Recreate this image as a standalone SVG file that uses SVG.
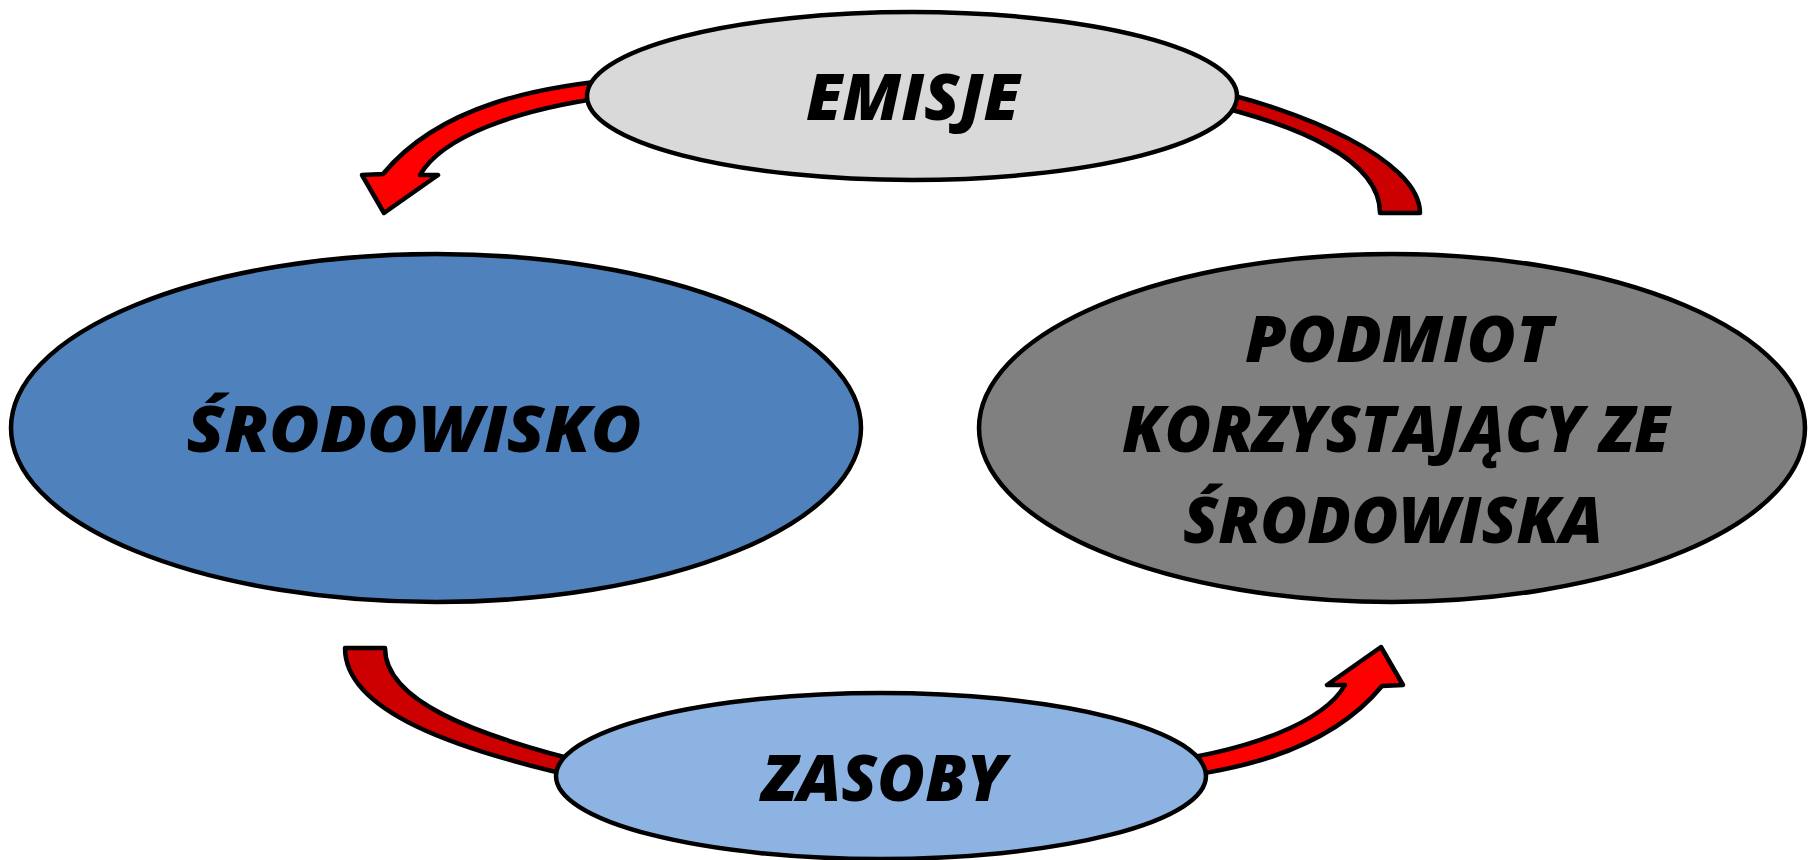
<svg xmlns="http://www.w3.org/2000/svg" width="1809" height="860" viewBox="0 0 1809 860">
<style>
.node{stroke:#000;stroke-width:4.5}
.arr{stroke:#000;stroke-width:4.5;stroke-linejoin:round}
.bright{fill:#FF0000}
.dark{fill:#CC0000}
text{font-family:"Open Sans","Liberation Sans",sans-serif;font-weight:800;font-style:italic;font-size:63px;fill:#000;text-anchor:middle}
</style>
<rect width="1809" height="860" fill="#fff"/>
<g id="connectors">
<path id="arrow-emisje-srodowisko" class="arr bright" d="M 625,79 C 540,86 440,105 383,174 L 362,175 L 384,213 L 438,175 L 420,175 C 440,140 510,108 625,95 Z"/>
<path id="arrow-podmiot-emisje" class="arr dark" d="M 1200,88 C 1300,108 1420,160 1420,213 L 1380,213 C 1380,160 1300,125 1200,102 Z"/>
<path id="arrow-srodowisko-zasoby" class="arr dark" d="M 345,648 L 385,648 C 385,700 470,735 600,766 L 600,782 C 450,750 345,710 345,648 Z"/>
<path id="arrow-zasoby-podmiot" class="arr bright" transform="rotate(180 882.5 430)" d="M 625,79 C 540,86 440,105 383,174 L 362,175 L 384,213 L 438,175 L 420,175 C 440,140 510,108 625,95 Z"/>
</g>
<g id="emisje">
<ellipse class="node" cx="912" cy="96" rx="325" ry="84" fill="#D9D9D9"/>
<text x="913" y="120" textLength="214" lengthAdjust="spacingAndGlyphs">EMISJE</text>
</g>
<g id="srodowisko">
<ellipse class="node" cx="436" cy="428" rx="425" ry="174" fill="#4F81BD"/>
<text x="414" y="452" textLength="455" lengthAdjust="spacingAndGlyphs">ŚRODOWISKO</text>
</g>
<g id="podmiot">
<ellipse class="node" cx="1392" cy="428" rx="413" ry="174" fill="#808080"/>
<text x="1399" y="362" textLength="308" lengthAdjust="spacingAndGlyphs">PODMIOT</text>
<text x="1396" y="452" textLength="548" lengthAdjust="spacingAndGlyphs">KORZYSTAJĄCY ZE</text>
<text x="1393" y="543" textLength="420" lengthAdjust="spacingAndGlyphs">ŚRODOWISKA</text>
</g>
<g id="zasoby">
<ellipse class="node" cx="881" cy="776" rx="325" ry="83" fill="#8DB3E2"/>
<text x="884" y="801" textLength="244" lengthAdjust="spacingAndGlyphs">ZASOBY</text>
</g>
</svg>
